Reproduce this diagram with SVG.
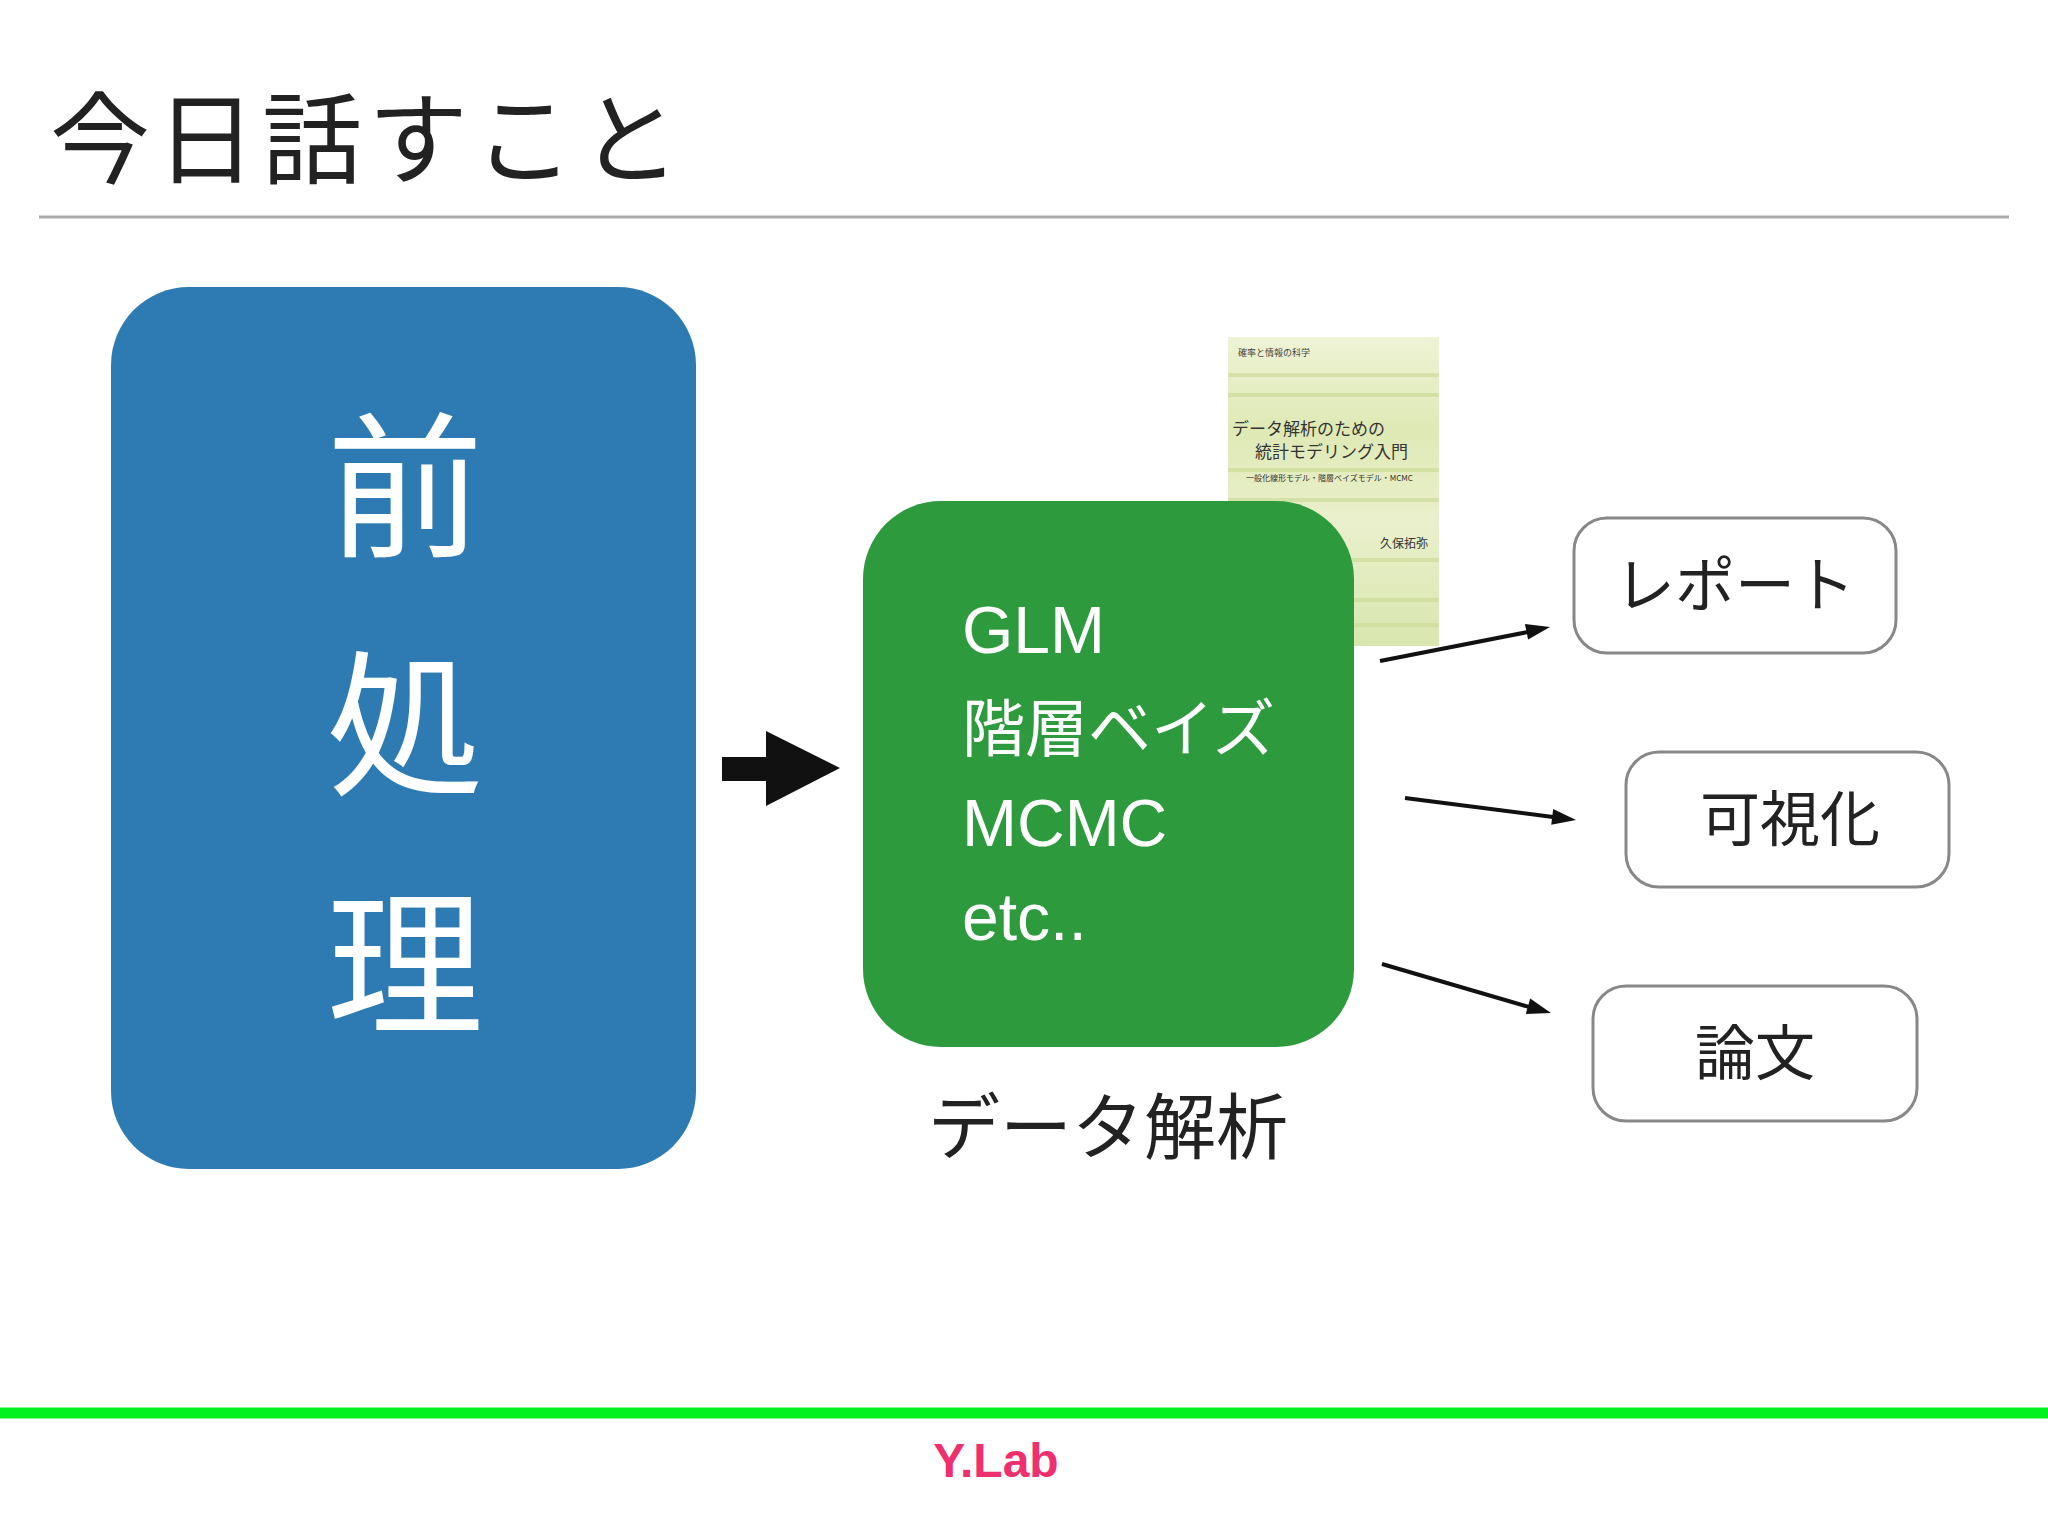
<svg xmlns="http://www.w3.org/2000/svg" width="2048" height="1536" viewBox="0 0 2048 1536">
<style>
.jp{font-family:"Noto Sans CJK JP","Noto Sans",sans-serif}
.lat{font-family:"Liberation Sans","Noto Sans CJK JP",sans-serif}
.box{fill:#fff;stroke:#888;stroke-width:3}
.lbl{font-family:"Noto Sans CJK JP",sans-serif;font-size:60px;fill:#222;text-anchor:middle}
.w{fill:#fff}
.cn{stroke:#111;stroke-width:4}
.hd{fill:#111}
</style>
<defs>
<linearGradient id="bk" x1="0" y1="0" x2="0" y2="1">
<stop offset="0" stop-color="#eef3d6"/><stop offset="0.3" stop-color="#dfe9b5"/><stop offset="0.6" stop-color="#eaf0cc"/><stop offset="1" stop-color="#d8e6ae"/></linearGradient>
</defs>
<rect width="2048" height="1536" fill="#fff"/>
<text x="50" y="176" class="jp" font-size="100" letter-spacing="6" fill="#222">今日話すこと</text>
<line x1="39" y1="217" x2="2009" y2="217" stroke="#aaa" stroke-width="3"/>
<g id="preprocess">
<rect x="111" y="287" width="585" height="882" rx="78" fill="#2e7bb4"/>
<text x="405" y="545" class="jp w" font-size="157" text-anchor="middle">前</text>
<text x="405" y="783" class="jp w" font-size="157" text-anchor="middle">処</text>
<text x="405" y="1022" class="jp w" font-size="157" text-anchor="middle">理</text>
</g>
<g id="book">
<rect x="1228" y="337" width="211" height="309" fill="url(#bk)"/>
<g stroke="#cddc9a" stroke-width="4" opacity="0.7">
<line x1="1228" y1="375" x2="1439" y2="375"/><line x1="1228" y1="395" x2="1439" y2="395"/><line x1="1228" y1="470" x2="1439" y2="470"/><line x1="1228" y1="500" x2="1439" y2="500"/><line x1="1228" y1="560" x2="1439" y2="560"/><line x1="1228" y1="600" x2="1439" y2="600"/><line x1="1228" y1="625" x2="1439" y2="625"/></g>
<text x="1238" y="356" class="jp" font-size="9" fill="#444">確率と情報の科学</text>
<text x="1232" y="435" font-family="Noto Sans CJK JP,serif" font-size="17" fill="#333">データ解析のための</text>
<text x="1255" y="458" font-family="Noto Sans CJK JP,serif" font-size="17" fill="#333">統計モデリング入門</text>
<text x="1246" y="481" class="jp" font-size="8" fill="#333">一般化線形モデル・階層ベイズモデル・MCMC</text>
<text x="1380" y="548" class="jp" font-size="12" fill="#333">久保拓弥</text>
</g>
<g id="analysis">
<rect x="863" y="501" width="491" height="546" rx="78" fill="#2e9a3e"/>
<text x="962" y="653" class="lat w" font-size="66">GLM</text>
<text x="962" y="751" class="jp w" font-size="63">階層ベイズ</text>
<text x="962" y="846" class="lat w" font-size="66">MCMC</text>
<text x="962" y="940" class="lat w" font-size="66">etc..</text>
<text x="1108" y="1153" class="jp" font-size="72" fill="#222" text-anchor="middle">データ解析</text>
</g>
<g id="report"><rect class="box" x="1574" y="518" width="322" height="135" rx="33"/><text class="lbl" x="1735" y="607">レポート</text></g>
<g id="viz"><rect class="box" x="1626" y="752" width="323" height="135" rx="33"/><text class="lbl" x="1790" y="841">可視化</text></g>
<g id="paper"><rect class="box" x="1593" y="986" width="324" height="135" rx="33"/><text class="lbl" x="1755" y="1075">論文</text></g>
<g id="connectors">
<path d="M722,757 H766 V731 L840,768 L766,806 V781 H722 z" fill="#111"/>
<line class="cn" x1="1380" y1="661" x2="1528" y2="632"/>
<polygon class="hd" points="1550,627 1528.1,639.5 1524.9,623.9"/>
<line class="cn" x1="1405" y1="798" x2="1553" y2="817"/>
<polygon class="hd" points="1576,820 1551.2,824.8 1553.2,809.0"/>
<line class="cn" x1="1382" y1="964" x2="1529" y2="1007"/>
<polygon class="hd" points="1551,1013 1525.8,1014.0 1530.2,998.6"/>
</g>
<line x1="0" y1="1413" x2="2048" y2="1413" stroke="#00f020" stroke-width="11"/>
<text x="996" y="1477" font-family="Liberation Sans,sans-serif" font-weight="bold" font-size="48" fill="#f0306e" text-anchor="middle">Y.Lab</text>
</svg>
